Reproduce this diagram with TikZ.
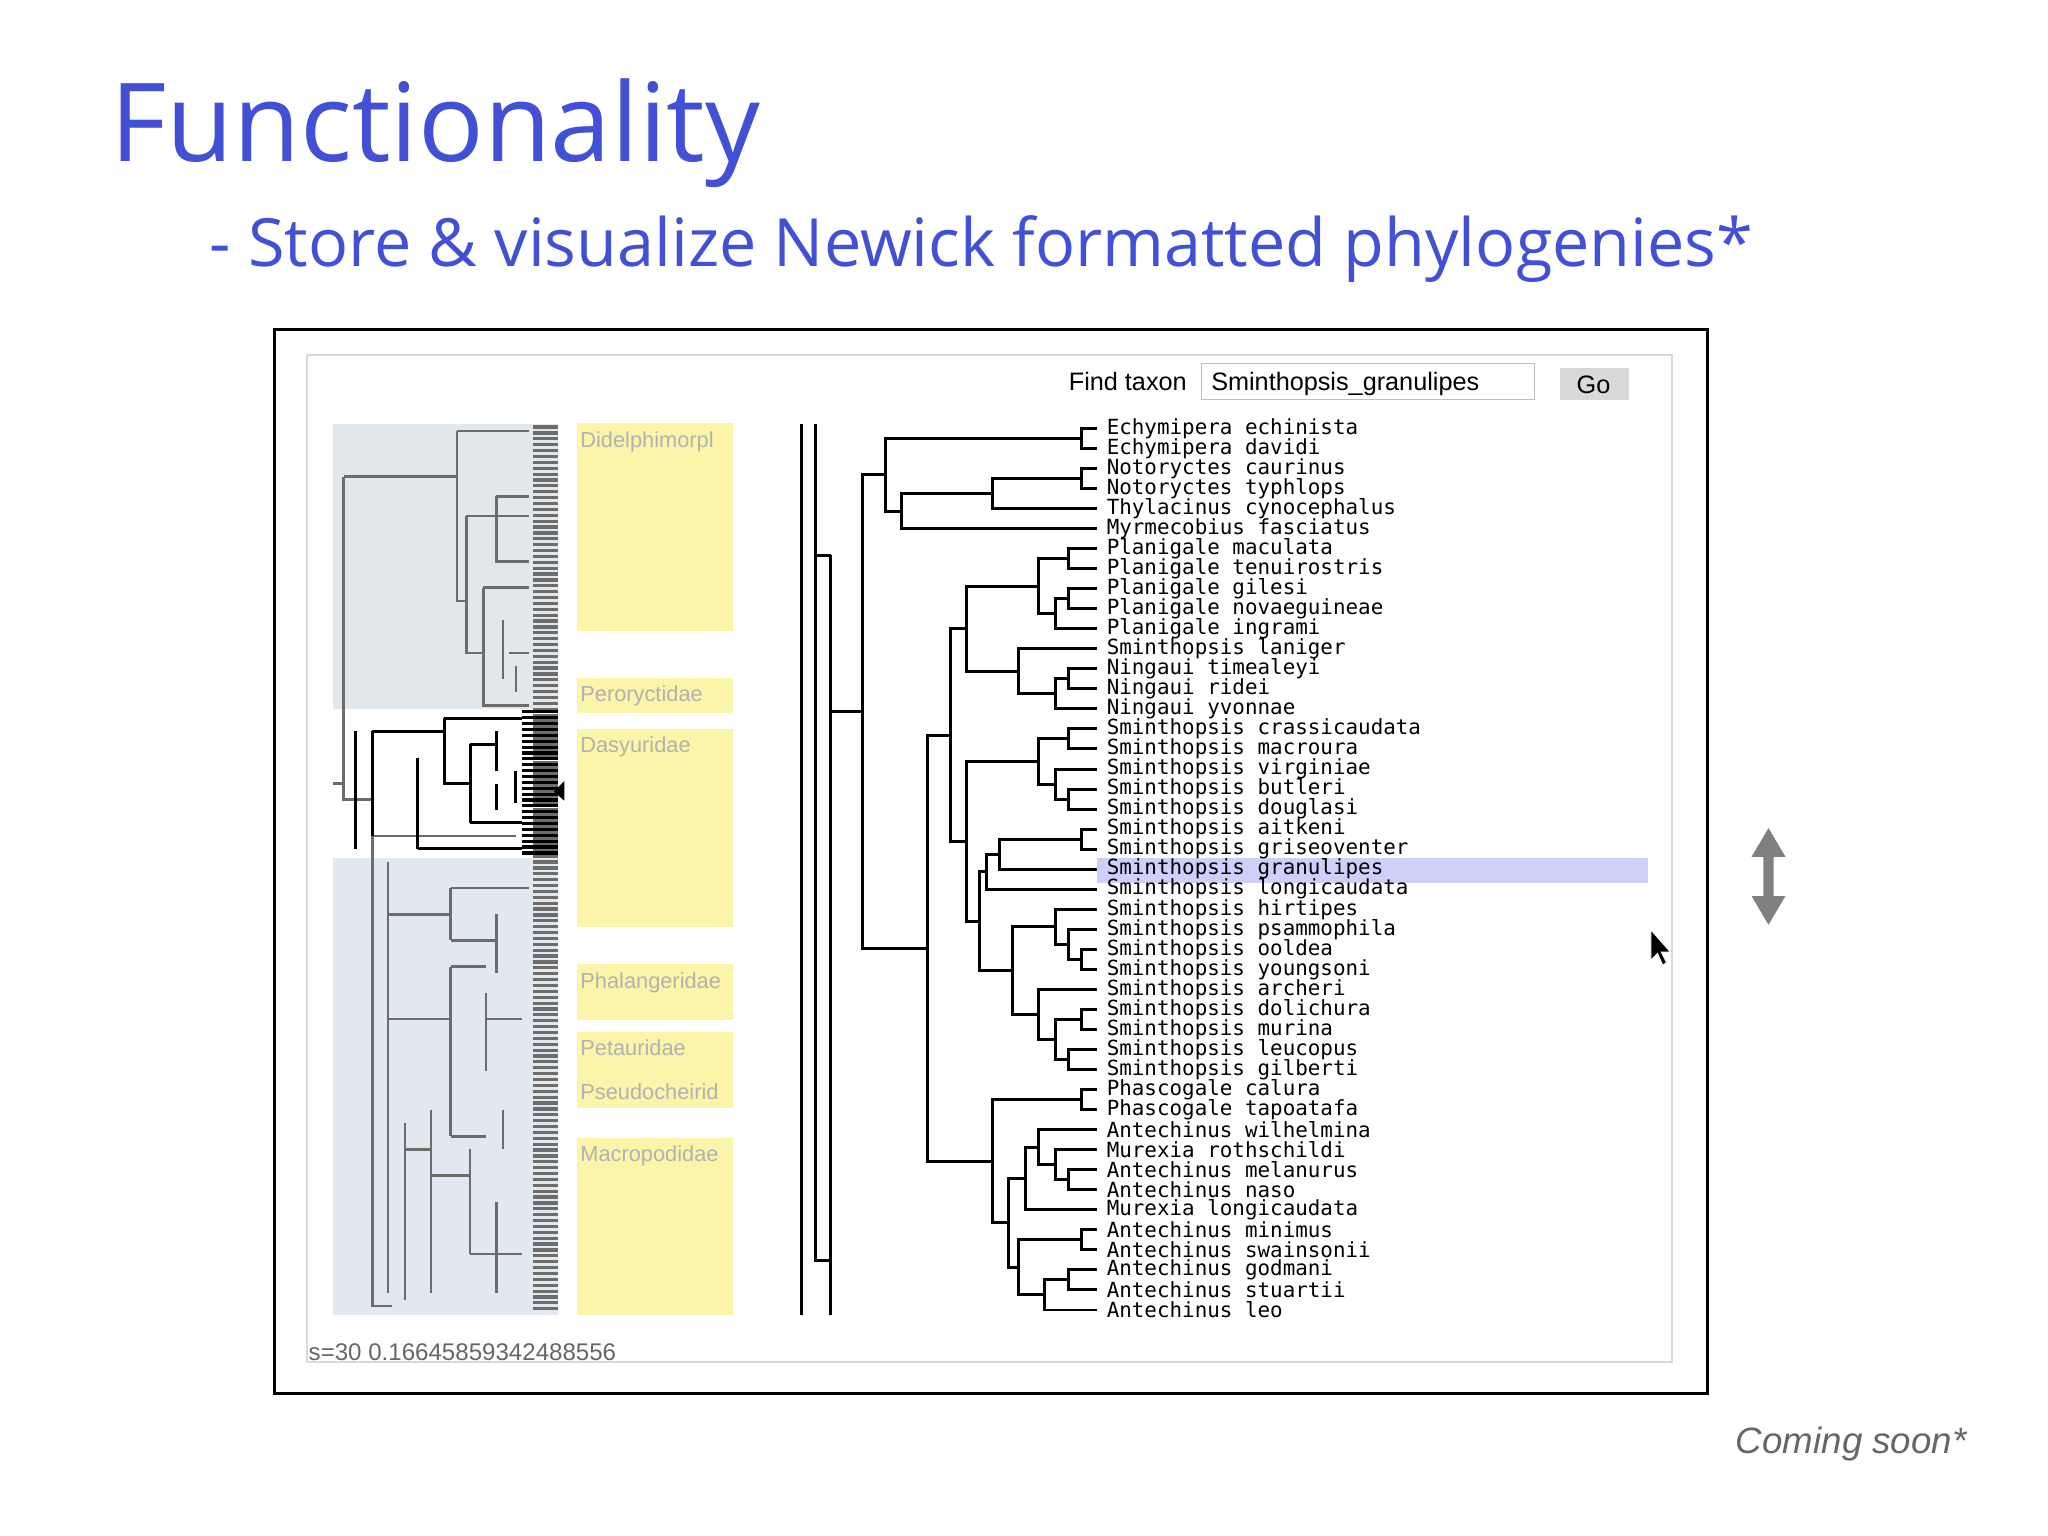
\documentclass[tikz,border=0pt]{standalone}
\usepackage{fontspec}
\setmainfont{Open Sans}
\newfontfamily\mono{DejaVu Sans Mono}
\newfontfamily\lib{Liberation Sans}
\usetikzlibrary{calc}
\definecolor{ttl}{HTML}{4150D4}
\definecolor{ylw}{HTML}{FAF5A8}
\definecolor{pale}{HTML}{E1E7EA}
\definecolor{pale2}{HTML}{E1E8EF}
\definecolor{hl}{HTML}{CED0FA}
\tikzset{tr/.style={line width=1.3pt,black},
 gt/.style={line width=1.1pt,gray!85!black},
 leaf/.style={anchor=west,inner sep=0pt,font=\mono\fontsize{9.1}{9.1}\selectfont},
 fam/.style={anchor=north west,inner sep=0pt,text=gray!60,font=\lib\fontsize{9.5}{10}\selectfont}}
\newcommand\cl[4]{\path ($(#3)!.5!(#4)$) coordinate (tmp); \coordinate (#1) at (tmp -| #2,0); \draw[tr] (#1) |- (#3); \draw[tr] (#1) |- (#4);}
\begin{document}
\begin{tikzpicture}[x=0.02cm,y=-0.02cm]
\useasboundingbox (0,0) rectangle (1568,1176);
\node[anchor=base west,inner sep=0pt,text=ttl,font=\fontsize{47.5}{48}\selectfont] (title) at (84,124) {Functionality};
\node[anchor=base west,inner sep=0pt,text=ttl,font=\fontsize{29}{29}\selectfont] (sub) at (160,204) {- Store \& visualize Newick formatted phylogenies*};
\draw[line width=1.2pt] (210,252) rectangle (1307,1067);
\draw[gray!30,line width=1pt] (235,272) rectangle (1280,1043);
\node[anchor=base west,inner sep=0pt,font=\lib\fontsize{11}{11}\selectfont] (ft) at (818,299) {Find taxon};
\draw[gray!50] (920,278) rectangle (1175,306);
\node[anchor=base west,inner sep=0pt,font=\lib\fontsize{11}{11}\selectfont] (ftv) at (927,299) {Sminthopsis\_granulipes};
\fill[gray!30] (1194,282) rectangle (1247,306);
\node[font=\lib\fontsize{11}{11}\selectfont] (go) at (1220,295) {Go};
% overview
\fill[pale] (255,325) rectangle (427,543);
\fill[pale2] (255,657) rectangle (427,1007);
\foreach \y in {327,331.5,...,1006} {\draw[gt,line width=1.4pt] (408,\y) -- (427,\y);}
\foreach \y in {545,549.5,...,656} {\draw[line width=1.4pt] (400,\y) -- (427,\y);}
\draw[gt] (255,600) -- (263,600) (263,365) |- (350,365) (263,365) -- (263,612) -- (285,612);
\draw[gt] (350,330) -- (350,460) -- (357,460) (350,330) -- (405,330);
\draw[gt] (357,395) |- (405,395) (357,395) -- (357,500) -- (370,500) (370,450) |- (405,450) (370,450) -- (370,540) -- (405,540);
\draw[gt] (380,380) |- (405,380) (380,380) -- (380,430) -- (405,430);
\draw[gt] (385,475) -- (385,520) (390,500)--(405,500) (395,510)--(395,530);
\draw[gt] (285,612) -- (285,1000) -- (300,1000) (285,640) -- (395,640);
\draw[gt] (297,660) -- (297,990) (297,700) -- (345,700) (345,680) -- (345,720) (345,680)--(405,680) (345,720)--(380,720) (380,700)--(380,745);
\draw[gt] (297,780) -- (345,780) (345,740) -- (345,870) (345,740) -- (372,740) (345,870) -- (372,870) (372,760) -- (372,820) (372,780) -- (400,780);
\draw[gt] (330,850) -- (330,990) (330,900) -- (360,900) (360,880) -- (360,960) (360,960) -- (400,960) (380,920) -- (380,990) (385,850) -- (385,880);
\draw[gt] (310,880) -- (330,880) (310,860) -- (310,995);
\draw[line width=1.3pt] (272,560) -- (272,650) (285,560) -- (285,640) (285,560) -- (340,560) (340,550)--(400,550) (340,550) -- (340,600) -- (360,600) (360,570) -- (360,630) (360,570) -- (380,570) (380,560)--(380,590) (360,630) -- (400,630) (380,600) -- (380,620) (395,590)--(395,615) (320,580)--(320,650) (320,650)--(400,650);
\fill (432,598) -- (424,606) -- (432,613) -- cycle;
% families
\foreach \a/\b/\t in {324/483/Didelphimorpl,519/546/Peroryctidae,558/710/Dasyuridae,738/781/Phalangeridae,790/848/{Petauridae\\[9pt]Pseudocheirid},871/1007/Macropodidae}
{ \fill[ylw] (442,\a) rectangle (561,\b); \node[fam,align=left] at (444,\a+6) {\t}; }
% highlight
\fill[hl] (840,657) rectangle (1262,676);
% leaves
\foreach \n [count=\i] in {Echymipera echinista,Echymipera davidi,Notoryctes caurinus,Notoryctes typhlops,Thylacinus cynocephalus,Myrmecobius fasciatus,Planigale maculata,Planigale tenuirostris,Planigale gilesi,Planigale novaeguineae,Planigale ingrami,Sminthopsis laniger,Ningaui timealeyi,Ningaui ridei,Ningaui yvonnae,Sminthopsis crassicaudata,Sminthopsis macroura,Sminthopsis virginiae,Sminthopsis butleri,Sminthopsis douglasi,Sminthopsis aitkeni,Sminthopsis griseoventer,Sminthopsis granulipes,Sminthopsis longicaudata,Sminthopsis hirtipes,Sminthopsis psammophila,Sminthopsis ooldea,Sminthopsis youngsoni,Sminthopsis archeri,Sminthopsis dolichura,Sminthopsis murina,Sminthopsis leucopus,Sminthopsis gilberti,Phascogale calura,Phascogale tapoatafa,Antechinus wilhelmina,Murexia rothschildi,Antechinus melanurus,Antechinus naso,Murexia longicaudata,Antechinus minimus,Antechinus swainsonii,Antechinus godmani,Antechinus stuartii,Antechinus leo}
{ \pgfmathsetmacro\yy{328+(\i-1)*15.34}
  \coordinate (l\i) at (840,\yy);
  \node[leaf] (t\i) at (847,\yy) {\n}; }
\cl{n1}{828}{l1}{l2}
\cl{n2}{828}{l3}{l4}
\cl{n3}{760}{n2}{l5}
\cl{n4}{690}{n3}{l6}
\cl{n5}{678}{n1}{n4}
\cl{n6}{818}{l9}{l10}
\cl{n7}{808}{n6}{l11}
\cl{n8}{818}{l7}{l8}
\cl{n9}{795}{n8}{n7}
\cl{n10}{818}{l13}{l14}
\cl{n11}{808}{n10}{l15}
\cl{n12}{780}{l12}{n11}
\cl{n13}{740}{n9}{n12}
\cl{n14}{818}{l16}{l17}
\cl{n15}{818}{l19}{l20}
\cl{n16}{808}{l18}{n15}
\cl{n17}{795}{n14}{n16}
\cl{n18}{828}{l21}{l22}
\cl{n19}{765}{n18}{l23}
\cl{n21}{755}{n19}{l24}
\cl{n22}{828}{l27}{l28}
\cl{n23}{818}{l26}{n22}
\cl{n24}{808}{l25}{n23}
\cl{n25}{828}{l30}{l31}
\cl{n26}{818}{l32}{l33}
\cl{n27}{808}{n25}{n26}
\cl{n28}{795}{l29}{n27}
\cl{n29}{775}{n24}{n28}
\cl{n30}{750}{n21}{n29}
\cl{n31}{740}{n17}{n30}
\cl{n32}{728}{n13}{n31}
\cl{n33}{828}{l34}{l35}
\cl{n34}{818}{l38}{l39}
\cl{n35}{808}{l37}{n34}
\cl{n36}{795}{l36}{n35}
\cl{n43}{785}{n36}{l40}
\cl{n37}{828}{l41}{l42}
\cl{n38}{818}{l43}{l44}
\cl{n40}{800}{n38}{l45}
\cl{n41}{780}{n37}{n40}
\cl{n42}{772}{n43}{n41}
\cl{n44}{760}{n33}{n42}
\cl{n47}{710}{n32}{n44}
\cl{n48}{660}{n5}{n47}
\coordinate (rt) at (636,425);
\draw[tr] (n48) -| (rt);
\draw[tr] (rt) -- (636,1007);
\draw[tr] (rt) -- (624,425);
\draw[tr] (614,325) -- (614,1007);
\draw[tr] (624,325) -- (624,965) -- (636,965);
% misc
\node[anchor=base west,inner sep=0pt,font=\lib\fontsize{10.5}{10.5}\selectfont,text=gray!80!black] (s) at (236,1042) {s=30 0.16645859342488556};
\fill[gray] (1354,634) -- (1341,656) -- (1350,656) -- (1350,686) -- (1341,686) -- (1354,708) -- (1367,686) -- (1358,686) -- (1358,656) -- (1367,656) -- cycle;
\fill[black,draw=white] (1264,712) -- (1264,735) -- (1269,730) -- (1273,739) -- (1276,737) -- (1272,729) -- (1279,729) -- cycle;
\node[anchor=base east,inner sep=0pt,font=\lib\itshape\fontsize{16}{16}\selectfont,text=gray!80!black] (cs) at (1506,1113) {Coming soon*};
\end{tikzpicture}
\end{document}
